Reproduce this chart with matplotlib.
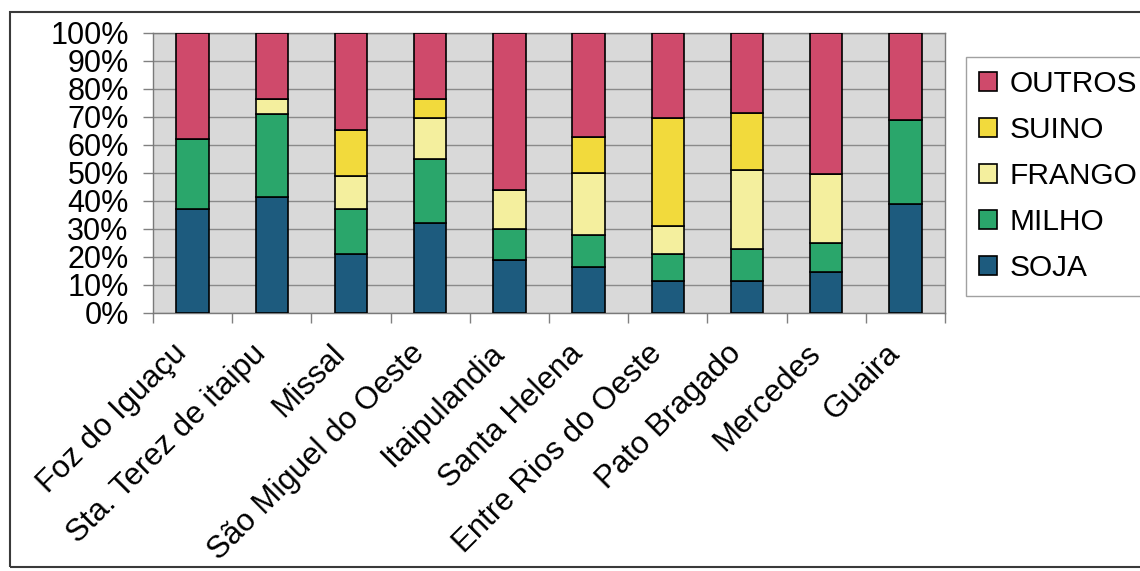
import matplotlib
matplotlib.use("Agg")
import matplotlib.pyplot as plt
from matplotlib.patches import Rectangle
from matplotlib.ticker import FixedLocator, PercentFormatter
from matplotlib.transforms import ScaledTranslation
import numpy as np

# Municipalities and share of each product (%)
municipios = ["Foz do Iguaçu", "Sta. Terez de itaipu", "Missal", "São Miguel do Oeste",
              "Itaipulandia", "Santa Helena", "Entre Rios do Oeste", "Pato Bragado",
              "Mercedes", "Guaira"]
soja = [37.0, 41.5, 21.0, 32.0, 19.0, 16.5, 11.5, 11.5, 14.5, 39.0]
milho = [25.0, 29.5, 16.0, 23.0, 11.0, 11.5, 9.5, 11.5, 10.5, 30.0]
frango = [0.0, 5.5, 12.0, 14.5, 14.0, 22.0, 10.0, 28.0, 24.5, 0.0]
suino = [0.0, 0.0, 16.5, 7.0, 0.0, 13.0, 38.5, 20.5, 0.0, 0.0]
outros = [100 - s - m - f - u for s, m, f, u in zip(soja, milho, frango, suino)]

series = [("SOJA", soja, "#1d5b7e"),
          ("MILHO", milho, "#2aa66b"),
          ("FRANGO", frango, "#f4ef9e"),
          ("SUINO", suino, "#f2da3c"),
          ("OUTROS", outros, "#cf4a6b")]

plt.rcParams["font.family"] = ["Liberation Sans", "DejaVu Sans"]
W, H = 1140, 571
fig = plt.figure(figsize=(W / 100, H / 100), dpi=100)
fig.patch.set_facecolor("white")

ax = fig.add_axes([153 / W, 1 - 313 / H, (945 - 153) / W, (313 - 33) / H])
ax.set_facecolor("#d9d9d9")

x = np.arange(len(municipios))
bottom = np.zeros(len(municipios))
handles = {}
for name, vals, color in series:
    vals = np.array(vals)
    bars = ax.bar(x, vals, width=0.41, bottom=bottom, color=color,
                  edgecolor="black", linewidth=1.2, zorder=3, label=name)
    handles[name] = bars
    bottom += vals

ax.set_xlim(-0.5, len(municipios) - 0.5)
ax.set_ylim(0, 100)
ax.set_yticks(np.arange(0, 101, 10))
ax.yaxis.set_major_formatter(PercentFormatter(decimals=0))
ax.grid(axis="y", color="#8a8a8a", linewidth=1.0, zorder=1)
ax.tick_params(axis="y", length=7.5, width=1.0, color="#808080",
               labelsize=22, pad=10)

# category labels at bar centres, tick marks between categories
ax.set_xticks(x)
ax.set_xticklabels(municipios, rotation=45, ha="right", va="center",
                   rotation_mode="anchor", fontsize=22.5)
ax.tick_params(axis="x", which="major", length=0, pad=26)
shift = ScaledTranslation(-10 / 100, 0, fig.dpi_scale_trans)
for lbl in ax.get_xticklabels():
    lbl.set_transform(lbl.get_transform() + shift)
ax.xaxis.set_minor_locator(FixedLocator(np.arange(-0.5, len(municipios), 1.0)))
ax.tick_params(axis="x", which="minor", length=7.5, width=1.0, color="#808080")

for side in ["top", "right", "bottom", "left"]:
    ax.spines[side].set_color("#7a7a7a")
    ax.spines[side].set_linewidth(1.0)

order = ["OUTROS", "SUINO", "FRANGO", "MILHO", "SOJA"]
leg = fig.legend([handles[n] for n in order], order,
                 loc="upper left", bbox_to_anchor=(966 / W, 1 - 57 / H),
                 bbox_transform=fig.transFigure, borderaxespad=0,
                 fontsize=21.5, frameon=True, fancybox=False, shadow=False,
                 handlelength=0.6, handleheight=0.6, handletextpad=0.4,
                 labelspacing=0.6, borderpad=0.45)
leg.get_frame().set_edgecolor("#8a8a8a")
leg.get_frame().set_linewidth(1.0)

# outer chart border
fig.patches.append(Rectangle((10 / W, 1 - 567 / H), (W + 20 - 10) / W, (567 - 12) / H,
                             transform=fig.transFigure, fill=False,
                             edgecolor="#3a3a3a", linewidth=1.5))

fig.savefig("out.png", dpi=100)
